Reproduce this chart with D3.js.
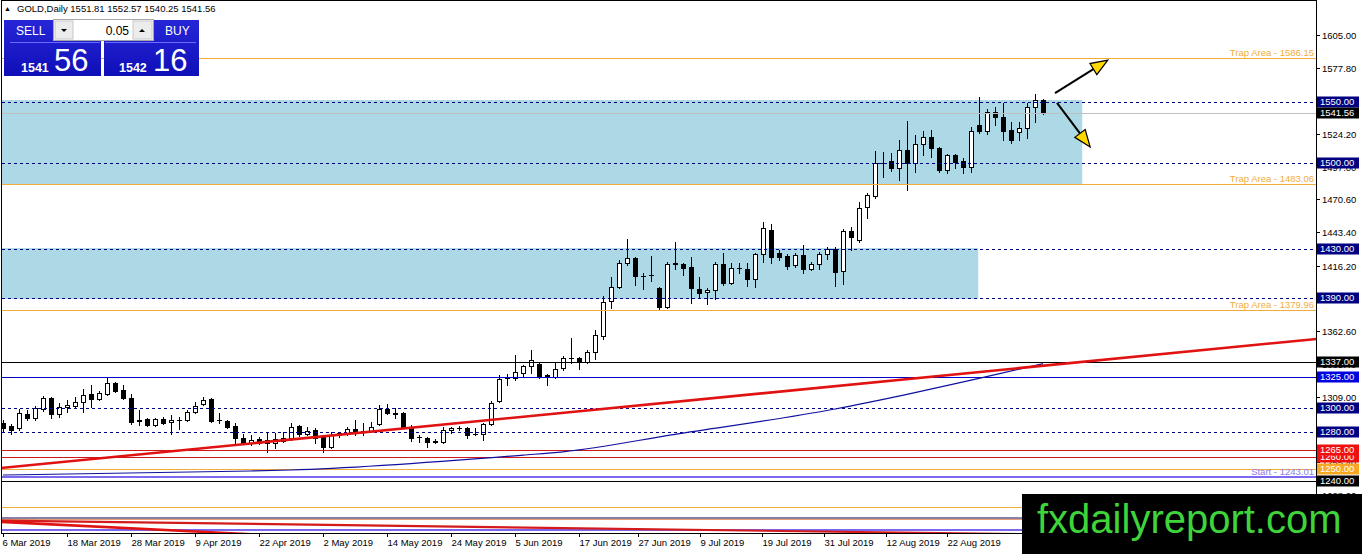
<!DOCTYPE html>
<html><head><meta charset="utf-8">
<script src="https://cdn.jsdelivr.net/npm/d3@7/dist/d3.min.js"></script>
<style>
html,body{margin:0;padding:0;background:#fff;overflow:hidden}
svg{display:block}
text{font-family:"Liberation Sans",Arial,sans-serif}
</style></head><body>
<svg id="chart" width="1362" height="554"></svg>
<script>
// ---------- DATA ----------
const symbolTitle = "GOLD,Daily";
const lastOHLC = [1551.81, 1552.57, 1540.25, 1541.56];
const opens = [1287.4,1285.0,1283.3,1294.8,1291.5,1298.9,1307.9,1294.8,1300.5,1301.3,1304.6,1311.2,1307.1,1311.2,1320.2,1314.4,1307.9,1289.9,1290.7,1285.8,1290.7,1288.2,1289.9,1289.9,1296.4,1303.0,1307.1,1290.2,1289.1,1285.0,1275.1,1271.1,1274.3,1273.5,1271.1,1272.7,1275.1,1285.0,1278.4,1281.7,1276.0,1267.8,1277.6,1279.2,1282.5,1280.9,1280.9,1286.6,1298.9,1295.6,1295.6,1284.1,1276.0,1275.1,1272.7,1271.9,1281.7,1283.3,1283.3,1278.1,1278.4,1286.6,1305.4,1324.2,1324.2,1328.4,1334.1,1335.7,1326.7,1325.1,1332.4,1340.6,1340.6,1337.3,1345.5,1358.6,1387.3,1398.7,1418.4,1422.5,1407.7,1408.5,1397.9,1382.4,1417.6,1417.6,1415.1,1397.1,1394.6,1396.3,1417.6,1402.0,1414.3,1413.5,1405.3,1425.7,1445.4,1426.6,1424.1,1416.7,1424.9,1413.5,1417.6,1425.7,1429.9,1411.8,1444.6,1437.2,1464.2,1473.2,1500.2,1501.8,1496.1,1510.9,1500.2,1515.8,1521.5,1512.5,1494.5,1506.8,1501.8,1496.9,1531.3,1526.4,1542.0,1537.9,1527.2,1525.6,1528.9,1546.0,1551.81];
const highs = [1289.9,1286.6,1298.9,1298.1,1301.3,1309.5,1308.7,1303.8,1306.2,1308.7,1315.2,1318.5,1313.6,1324.2,1321.0,1318.5,1311.2,1298.1,1291.5,1291.5,1292.3,1294.0,1292.3,1298.1,1304.6,1308.7,1307.9,1295.6,1289.9,1287.4,1278.4,1277.6,1276.0,1279.2,1279.2,1280.0,1287.4,1285.8,1284.1,1283.3,1277.6,1280.0,1280.0,1284.1,1289.9,1287.4,1288.2,1302.1,1303.0,1299.7,1296.4,1285.8,1277.6,1276.0,1274.3,1284.1,1284.1,1285.0,1284.1,1283.3,1287.4,1305.4,1326.7,1327.5,1343.1,1335.0,1347.2,1336.5,1327.5,1336.5,1342.3,1357.0,1341.4,1347.2,1363.5,1391.4,1406.9,1420.8,1438.0,1423.3,1410.2,1424.1,1398.7,1419.2,1435.6,1418.4,1423.3,1406.9,1397.9,1419.2,1426.6,1418.4,1418.4,1418.4,1426.6,1451.9,1450.3,1429.0,1425.7,1426.6,1433.1,1419.2,1427.4,1431.5,1431.5,1446.2,1447.9,1468.3,1475.6,1510.0,1509.2,1508.4,1519.0,1534.6,1523.1,1526.4,1527.2,1513.0,1507.5,1507.5,1504.3,1529.7,1554.3,1544.4,1546.0,1549.3,1533.8,1533.8,1549.3,1556.7,1552.57];
const lows = [1280.0,1278.4,1281.7,1289.9,1289.9,1297.2,1291.5,1292.3,1296.4,1300.5,1296.4,1300.5,1306.2,1310.3,1312.8,1307.1,1286.6,1285.8,1285.0,1285.0,1286.6,1278.4,1282.5,1289.1,1295.6,1302.1,1288.2,1287.4,1283.3,1271.1,1270.2,1269.4,1270.2,1263.7,1267.0,1271.9,1273.5,1276.8,1277.6,1271.1,1263.7,1267.0,1276.0,1277.6,1277.6,1277.6,1280.0,1285.8,1294.8,1291.5,1283.3,1272.7,1271.9,1267.8,1271.1,1271.1,1279.2,1281.7,1275.1,1277.6,1273.5,1285.8,1304.6,1318.5,1322.6,1325.1,1328.4,1324.2,1318.5,1324.2,1330.8,1336.5,1331.6,1336.5,1339.8,1356.2,1381.5,1397.9,1416.7,1400.4,1397.1,1403.6,1379.9,1381.5,1413.5,1408.5,1385.6,1389.7,1384.8,1388.9,1400.4,1401.2,1410.2,1399.5,1398.7,1419.2,1418.4,1420.8,1413.5,1415.1,1410.2,1412.6,1413.5,1421.7,1399.5,1401.2,1429.0,1435.6,1455.2,1471.6,1488.8,1493.7,1486.3,1478.1,1492.9,1506.8,1505.1,1492.9,1492.0,1496.1,1492.0,1492.9,1524.8,1524.0,1531.3,1519.0,1516.6,1519.0,1520.7,1533.8,1540.25];
const closes = [1283.3,1281.7,1295.6,1291.5,1299.7,1307.9,1294.8,1300.5,1302.1,1304.6,1310.3,1307.1,1312.0,1320.2,1313.6,1307.9,1288.2,1289.5,1285.8,1290.7,1287.4,1289.9,1290.2,1296.4,1301.3,1306.2,1289.1,1289.9,1284.1,1275.1,1271.1,1273.5,1271.1,1271.1,1274.3,1275.1,1284.1,1278.4,1280.9,1275.1,1267.8,1277.6,1279.2,1282.5,1279.2,1280.6,1284.1,1298.9,1295.6,1294.8,1284.1,1275.1,1275.6,1271.9,1271.9,1281.7,1283.3,1283.6,1277.6,1278.4,1286.6,1303.8,1323.4,1324.6,1329.2,1334.1,1339.0,1325.9,1325.1,1331.6,1340.6,1341.0,1338.2,1345.5,1359.4,1386.4,1398.7,1418.4,1422.5,1407.7,1408.1,1408.9,1382.4,1417.6,1418.0,1414.3,1397.9,1393.8,1396.3,1417.6,1402.0,1414.3,1414.7,1405.3,1425.7,1447.0,1423.3,1423.3,1415.9,1424.9,1413.5,1417.6,1425.7,1429.9,1411.0,1444.6,1439.6,1463.4,1474.0,1500.2,1500.6,1496.1,1510.9,1500.2,1515.8,1521.5,1512.5,1494.5,1506.8,1501.0,1496.9,1526.4,1526.4,1542.0,1537.9,1526.4,1519.0,1528.9,1546.0,1551.8,1541.56];

const dateTickLabels = ["6 Mar 2019","18 Mar 2019","28 Mar 2019","9 Apr 2019","22 Apr 2019","2 May 2019","14 May 2019","24 May 2019","5 Jun 2019","17 Jun 2019","27 Jun 2019","9 Jul 2019","19 Jul 2019","31 Jul 2019","12 Aug 2019","22 Aug 2019"];
const dateTickBars = [0,8,16,24,32,40,48,56,64,72,79.4,87.1,94.9,102.6,110.4,118];

const priceTicks = [1605.00,1577.80,1550.60,1524.20,1497.00,1470.60,1443.40,1416.20,1389.00,1362.60,1335.40,1309.00,1281.80,1255.40,1228.20];

// horizontal levels
const levelPrices = [1586.15,1483.06,1379.96,1550,1500,1430,1390,1300,1280,1541.56,1337,1325,1265,1260,1250,1243.01,1240,1218.7,1209.7,1208.9,1200];
const levelKinds  = ["trap","trap","trap","dash","dash","dash","dash","dash","dash","price","black","blue","red","red","orange","start","black","orange","grey","salmon","purple"];

const textLabels = ["Trap Area  - 1586.15","Trap Area - 1483.06","Trap Area - 1379.96","Start - 1243.01"];
const textLabelPrices = [1586.15,1483.06,1379.96,1243.01];
const textLabelKinds = ["trap","trap","trap","start"];

// right axis price boxes (drawn in this order)
const boxPrices = [1550,1541.56,1500,1430,1390,1337,1325,1300,1280,1260,1265,1250,1240];
const boxKinds  = ["navy","black","navy","navy","navy","black","blue","navy","navy","red","red","orange","black"];

// zones (rectangles)
const zoneTop = [1551.8,1430.6];
const zoneBottom = [1483.06,1388.9];
const zoneStartBar = [-2,-2];
const zoneEndBar = [134.9,121.9];

// moving average samples
const maBars = [0,31,36,65,70,84,104,113,122,130];
const maValues = [1244.9,1248.2,1249.0,1261.2,1263.9,1278.2,1298.9,1310.9,1324.0,1336.0];

// trend lines (two anchor points each, extended as rays)
const trendBarsA = [0,130],  trendPricesA = [1250.8,1334.3];
const trendBarsB = [0,112],  trendPricesB = [1207.6,1197.8];
const trendBarsC = [0,25],   trendPricesC = [1206.5,1198.4];

// arrows
const arrowFromBar = [131.5,131.75], arrowFromPrice = [1557.5,1549.4];
const arrowToBar = [138.1,135.9],   arrowToPrice = [1584.5,1513.3];

// trade panel
const sellPrice = ["1541","56"], buyPrice = ["1542","16"], lotSize = "0.05";

// ---------- CHART ----------
const svg = d3.select("#chart");
const W = 1362, H = 554;
const plotL = 1.5, plotR = 1316.5, plotT = 0.5, plotB = 533.5;

const x = d3.scaleLinear().domain([0,130]).range([3,1043]);
const y = d3.scaleLinear().domain([1605,1240]).range([35,481]);

const defs = svg.append("defs");
defs.append("clipPath").attr("id","plotclip").append("rect")
  .attr("x",plotL).attr("y",plotT).attr("width",plotR-plotL).attr("height",plotB-plotT);
const grad = defs.append("linearGradient").attr("id","bluegrad").attr("x1",0).attr("y1",0).attr("x2",0).attr("y2",1);
grad.append("stop").attr("offset","0%").attr("stop-color","#2626d8");
grad.append("stop").attr("offset","100%").attr("stop-color","#0f0fb8");

svg.append("rect").attr("width",W).attr("height",H).attr("fill","#fff");

const plot = svg.append("g").attr("clip-path","url(#plotclip)");
const crisp = v => Math.round(v) + 0.5;

// zones
plot.selectAll("rect.zone").data(zoneTop).join("rect").attr("class","zone")
  .attr("x",(d,i)=>x(zoneStartBar[i]))
  .attr("width",(d,i)=>x(zoneEndBar[i])-x(zoneStartBar[i]))
  .attr("y",(d,i)=>Math.round(y(d)))
  .attr("height",(d,i)=>Math.round(y(zoneBottom[i]))-Math.round(y(d)))
  .attr("fill","#add8e6");

// level line styles
const lvlStyle = {
  trap:{c:"#f2ac3a",w:1,dash:null},
  dash:{c:"#000080",w:1,dash:"3,3"},
  price:{c:"#c0c0c0",w:1,dash:null},
  black:{c:"#000000",w:1,dash:null},
  blue:{c:"#0000c8",w:1,dash:null},
  red:{c:"#d01818",w:1,dash:null},
  orange:{c:"#f2ac3a",w:1,dash:null},
  start:{c:"#7b68ee",w:2.5,dash:null},
  grey:{c:"#8a7fa6",w:1.5,dash:null},
  salmon:{c:"#e8a070",w:1,dash:null},
  purple:{c:"#7b68ee",w:2,dash:null}
};

// candles
const candles = plot.append("g").attr("shape-rendering","crispEdges");
opens.forEach((o,i)=>{
  const c = closes[i], cx = crisp(x(i));
  candles.append("line").attr("x1",cx).attr("x2",cx)
    .attr("y1",Math.round(y(highs[i]))).attr("y2",Math.round(y(lows[i]))+1)
    .attr("stroke","#000").attr("stroke-width",1);
  const top = Math.round(y(Math.max(o,c))), bot = Math.round(y(Math.min(o,c)));
  const up = c >= o;
  if (bot - top < 1) {
    candles.append("line").attr("x1",cx-2.5).attr("x2",cx+2.5).attr("y1",top+0.5).attr("y2",top+0.5)
      .attr("stroke","#000").attr("stroke-width",1);
  } else {
    candles.append("rect").attr("x",cx-2).attr("y",top+0.5).attr("width",4).attr("height",bot-top)
      .attr("fill",up?"#fff":"#000").attr("stroke","#000").attr("stroke-width",1);
  }
});

// horizontal levels
const lvl = plot.append("g").attr("shape-rendering","crispEdges");
levelPrices.forEach((p,i)=>{
  const s = lvlStyle[levelKinds[i]];
  const yy = s.w % 2 === 1 ? crisp(y(p)) : Math.round(y(p));
  lvl.append("line").attr("x1",plotL).attr("x2",plotR).attr("y1",yy).attr("y2",yy)
    .attr("stroke",s.c).attr("stroke-width",s.w).attr("stroke-dasharray",s.dash);
});

// moving average
plot.append("path").datum(maBars.map((b,i)=>[b,maValues[i]]))
  .attr("d",d3.line().x(d=>x(d[0])).y(d=>y(d[1])).curve(d3.curveMonotoneX))
  .attr("fill","none").attr("stroke","#1010a0").attr("stroke-width",1.2);

// trend lines as rays
function ray(bars, prices, color, width){
  const slope = (prices[1]-prices[0])/(bars[1]-bars[0]);
  const b0 = x.invert(0), b1 = x.invert(plotR);
  plot.append("line")
    .attr("x1",x(b0)).attr("y1",y(prices[0]+slope*(b0-bars[0])))
    .attr("x2",x(b1)).attr("y2",y(prices[0]+slope*(b1-bars[0])))
    .attr("stroke",color).attr("stroke-width",width);
}
ray(trendBarsA,trendPricesA,"#e01212",2.6);
ray(trendBarsB,trendPricesB,"#d41a1a",2.2);
ray(trendBarsC,trendPricesC,"#e01212",2.6);

// level text labels
textLabels.forEach((t,i)=>{
  svg.append("text").attr("x",1314).attr("y",Math.round(y(textLabelPrices[i]))-2)
    .attr("text-anchor","end").attr("font-size","9.5px")
    .attr("fill",textLabelKinds[i]==="trap"?"#f2ac3a":"#8a7be6").text(t);
});

// arrows
const arrowG = svg.append("g");
arrowFromBar.forEach((b,i)=>{
  const x0=x(b), y0=y(arrowFromPrice[i]), x1=x(arrowToBar[i]), y1=y(arrowToPrice[i]);
  const ang = Math.atan2(y1-y0,x1-x0), L=17, hw=6.5;
  const bx = x1 - L*Math.cos(ang), by = y1 - L*Math.sin(ang);
  arrowG.append("line").attr("x1",x0).attr("y1",y0).attr("x2",bx).attr("y2",by)
    .attr("stroke","#000").attr("stroke-width",2);
  const p1=[bx - hw*Math.sin(ang), by + hw*Math.cos(ang)], p2=[bx + hw*Math.sin(ang), by - hw*Math.cos(ang)];
  arrowG.append("path").attr("d",`M${x1},${y1}L${p1[0]},${p1[1]}L${p2[0]},${p2[1]}Z`)
    .attr("fill","#ffd800").attr("stroke","#000").attr("stroke-width",1.2);
});

// frame
svg.append("g").attr("shape-rendering","crispEdges").call(g=>{
  g.append("line").attr("x1",plotL).attr("x2",plotL).attr("y1",0).attr("y2",plotB).attr("stroke","#000");
  g.append("line").attr("x1",plotR-0.5).attr("x2",plotR-0.5).attr("y1",0).attr("y2",plotB).attr("stroke","#000");
  g.append("line").attr("x1",plotL).attr("x2",plotR).attr("y1",plotT).attr("y2",plotT).attr("stroke","#000");
  g.append("line").attr("x1",plotL).attr("x2",plotR).attr("y1",plotB).attr("y2",plotB).attr("stroke","#000");
});

// right axis ticks
const yAxisG = svg.append("g").attr("shape-rendering","crispEdges");
priceTicks.forEach(p=>{
  const yy = crisp(y(p));
  yAxisG.append("line").attr("x1",1316).attr("x2",1320).attr("y1",yy).attr("y2",yy).attr("stroke","#000");
  yAxisG.append("text").attr("x",1322).attr("y",yy).attr("dy","0.35em").attr("font-size","9.5px")
    .attr("fill","#000").text(p.toFixed(2));
});

// price boxes
const boxColor = {navy:"#000080",black:"#000000",blue:"#0000e0",red:"#f01010",orange:"#f7a823"};
boxPrices.forEach((p,i)=>{
  const yy = Math.round(y(p));
  svg.append("rect").attr("x",1317).attr("y",yy-5.5).attr("width",42).attr("height",11)
    .attr("fill",boxColor[boxKinds[i]]);
  svg.append("text").attr("x",1320).attr("y",yy).attr("dy","0.35em").attr("font-size","9.5px")
    .attr("fill","#fff").text(p.toFixed(2));
});

// bottom axis
const xAxisG = svg.append("g");
dateTickBars.forEach((b,i)=>{
  const xx = crisp(x(b));
  xAxisG.append("line").attr("x1",xx).attr("x2",xx).attr("y1",533).attr("y2",537).attr("stroke","#000")
    .attr("shape-rendering","crispEdges");
  xAxisG.append("text").attr("x",xx+(i===0?-1:0)).attr("y",546).attr("font-size","9.5px")
    .attr("fill","#000").text(dateTickLabels[i]);
});

// header
svg.append("text").attr("x",4).attr("y",11).attr("font-size","7px").attr("font-family","DejaVu Sans").text("\u25B2");
svg.append("text").attr("x",17).attr("y",12).attr("font-size","9.5px").attr("fill","#000")
  .text(symbolTitle + "  " + lastOHLC.map(v=>v.toFixed(2)).join(" "));

// trade panel
const panel = svg.append("g");
panel.append("rect").attr("x",4).attr("y",20).attr("width",97).attr("height",56).attr("fill","url(#bluegrad)");
panel.append("rect").attr("x",104).attr("y",20).attr("width",95).attr("height",56).attr("fill","url(#bluegrad)");
panel.append("line").attr("x1",10).attr("x2",100).attr("y1",42.5).attr("y2",42.5).attr("stroke","#6a6aff").attr("stroke-width",1);
panel.append("line").attr("x1",105).attr("x2",196).attr("y1",42.5).attr("y2",42.5).attr("stroke","#6a6aff").attr("stroke-width",1);
panel.append("rect").attr("x",53.5).attr("y",19.5).attr("width",100).attr("height",21).attr("fill","#fff").attr("stroke","#a8a8a8");
panel.append("rect").attr("x",55).attr("y",21).attr("width",18).attr("height",18).attr("fill","#ececec").attr("stroke","#c8c8c8");
panel.append("rect").attr("x",133).attr("y",21).attr("width",19).attr("height",18).attr("fill","#ececec").attr("stroke","#c8c8c8");
panel.append("path").attr("d","M61,29L67,29L64,32Z").attr("fill","#000");
panel.append("path").attr("d","M139,32L145,32L142,29Z").attr("fill","#000");
panel.append("text").attr("x",129).attr("y",35).attr("text-anchor","end").attr("font-size","12px").attr("fill","#000").text(lotSize);
panel.append("text").attr("x",16).attr("y",35).attr("font-size","12px").attr("fill","#fff").text("SELL");
panel.append("text").attr("x",165).attr("y",35).attr("font-size","12px").attr("fill","#fff").text("BUY");
panel.append("text").attr("x",21).attr("y",72).attr("font-size","12.5px").attr("font-weight","bold").attr("fill","#fff").text(sellPrice[0]);
panel.append("text").attr("x",54).attr("y",71).attr("font-size","31px").attr("fill","#fff").text(sellPrice[1]);
panel.append("text").attr("x",119).attr("y",72).attr("font-size","12.5px").attr("font-weight","bold").attr("fill","#fff").text(buyPrice[0]);
panel.append("text").attr("x",153).attr("y",71).attr("font-size","31px").attr("fill","#fff").text(buyPrice[1]);

// watermark
svg.append("rect").attr("x",1022).attr("y",494).attr("width",340).attr("height",60).attr("fill","#000");
svg.append("text").attr("x",1037).attr("y",533).attr("font-size","40px").attr("fill","#3ed43a").text("fxdailyreport.com");
</script>
</body></html>
